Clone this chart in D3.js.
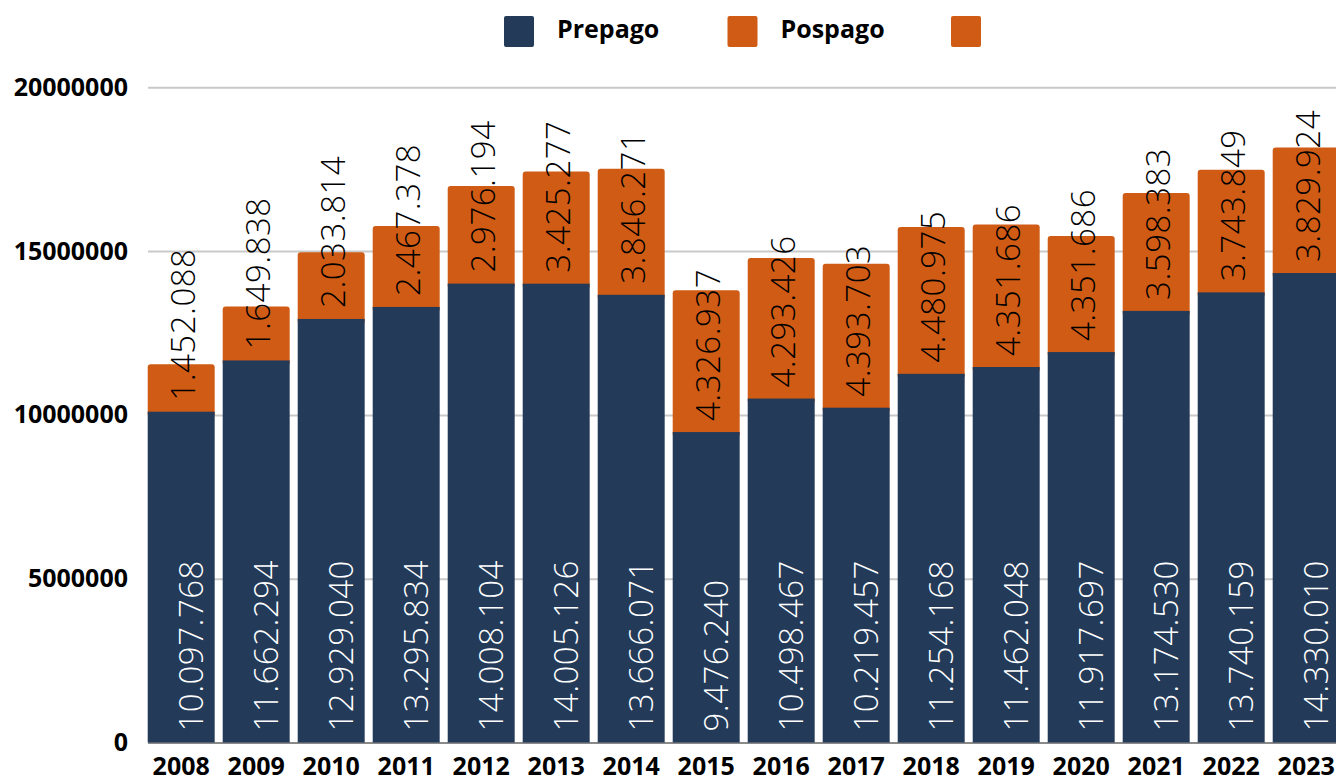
<html>
<head>
<title>Prepago / Pospago</title>
<script src="https://d3js.org/d3.v7.min.js"></script>
<style>
  body { margin: 0; background: #fff; }
  svg { display: block; font-family: "Open Sans", sans-serif; }
  .axis text { font-family: "Open Sans", sans-serif; font-weight: 700; font-size: 25px; fill: #000; }
  .val { font-family: "Open Sans", sans-serif; font-weight: 300; font-size: 33px; }
</style>
</head>
<body>
<script>
var years = ["2008", "2009", "2010", "2011", "2012", "2013", "2014", "2015",
             "2016", "2017", "2018", "2019", "2020", "2021", "2022", "2023"];
var prepago = [10097768, 11662294, 12929040, 13295834, 14008104, 14005126, 13666071, 9476240,
               10498467, 10219457, 11254168, 11462048, 11917697, 13174530, 13740159, 14330010];
// bar heights as drawn
var pospago = [1452088, 1649838, 2033814, 2467378, 2976194, 3425277, 3846271, 4326937,
               4293426, 4393703, 4480975, 4351686, 3540000, 3598383, 3743849, 3829924];
// numbers printed on the bars (2020 repeats the 2019 figure in the source)
var pospagoLabels = [1452088, 1649838, 2033814, 2467378, 2976194, 3425277, 3846271, 4326937,
                     4293426, 4393703, 4480975, 4351686, 4351686, 3598383, 3743849, 3829924];
var yTicks = [0, 5000000, 10000000, 15000000, 20000000];
var legendNames = ["Prepago", "Pospago", ""];

var colors = { prepago: "#233a59", pospago: "#d05b14" };
var legendColors = [colors.prepago, colors.pospago, colors.pospago];

var width = 1336, height = 778;

var rows = years.map(function(y, i) {
  return { year: y, prepago: prepago[i], pospago: pospago[i], i: i };
});

var stacked = d3.stack().keys(["prepago", "pospago"])(rows);

var x = d3.scaleBand()
  .domain(years)
  .range([143.7, 1343.7])
  .paddingInner(0.107)
  .paddingOuter(0.0535);

var y = d3.scaleLinear()
  .domain([0, 20000000])
  .range([742.5, 87.3]);

// labels use "." as thousands separator
var fmt = d3.formatLocale({ decimal: ",", thousands: ".", grouping: [3], currency: ["", ""] }).format(",d");

var svg = d3.select("body").append("svg")
  .attr("width", width)
  .attr("height", height);

// grid
svg.append("g")
  .attr("transform", "translate(148,0)")
  .call(d3.axisLeft(y).tickValues(yTicks).tickSize(-(width - 148)).tickFormat(""))
  .call(function(g) {
    g.select(".domain").remove();
    g.selectAll(".tick line")
      .attr("stroke", function(d) { return d === 0 ? "#8a8a8a" : "#c9c9c9"; })
      .attr("stroke-width", 2);
  });

// y labels
svg.append("g")
  .attr("class", "axis")
  .attr("transform", "translate(148,0)")
  .call(d3.axisLeft(y).tickValues(yTicks).tickSize(0).tickPadding(20).tickFormat(d3.format("d")))
  .call(function(g) { g.select(".domain").remove(); });

// x labels
svg.append("g")
  .attr("class", "axis")
  .attr("transform", "translate(0," + y(0) + ")")
  .call(d3.axisBottom(x).tickSize(0).tickPadding(14.5))
  .call(function(g) { g.select(".domain").remove(); });

// bars: pospago first (rounded top), prepago on top of its lower edge
var layers = svg.selectAll("g.layer")
  .data(stacked.slice().reverse())
  .enter().append("g")
    .attr("class", "layer")
    .attr("fill", function(d) { return colors[d.key]; });

layers.selectAll("rect")
  .data(function(d) { return d.map(function(v) { v.key = d.key; return v; }); })
  .enter().append("rect")
    .attr("x", function(d) { return x(d.data.year); })
    .attr("width", x.bandwidth())
    .attr("y", function(d) { return y(d[1]); })
    .attr("height", function(d) {
      return y(d[0]) - y(d[1]) + (d.key === "pospago" ? 5 : 0);
    })
    .attr("rx", function(d) { return d.key === "pospago" ? 3 : 0; });

// value labels
stacked.forEach(function(layer) {
  var isPre = layer.key === "prepago";
  svg.append("g").selectAll("text")
    .data(layer)
    .enter().append("text")
      .attr("class", "val")
      .attr("fill", isPre ? "#fff" : "#000")
      .attr("transform", function(d) {
        var cx = x(d.data.year) + x.bandwidth() / 2 + (isPre ? 10 : 2);
        return "translate(" + cx + "," + (y(d[0]) - 11) + ") rotate(-90)";
      })
      .attr("dy", "0.35em")
      .attr("letter-spacing", "0.5px")
      .text(function(d) { return fmt(isPre ? d.data.prepago : pospagoLabels[d.data.i]); });
});

// legend
var legend = svg.append("g").selectAll("g")
  .data(legendNames)
  .enter().append("g")
    .attr("transform", function(d, i) { return "translate(" + (504 + i * 223.5) + ",16)"; });

legend.append("rect")
  .attr("width", 30)
  .attr("height", 31)
  .attr("rx", 2)
  .attr("fill", function(d, i) { return legendColors[i]; });

legend.append("text")
  .attr("x", 53)
  .attr("y", 21.5)
  .attr("font-size", "25px")
  .attr("font-weight", 700)
  .text(function(d) { return d; });
</script>
</body>
</html>
